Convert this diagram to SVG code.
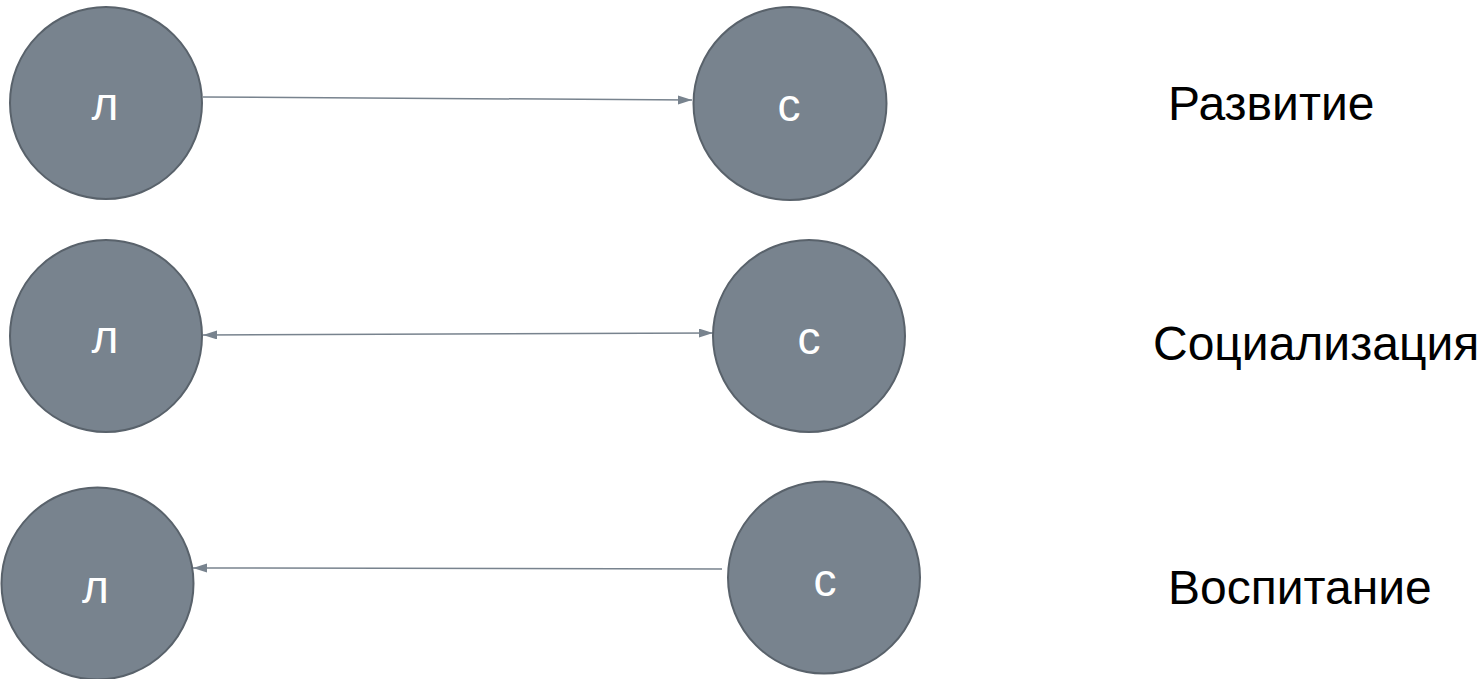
<svg xmlns="http://www.w3.org/2000/svg" width="1484" height="679" viewBox="0 0 1484 679">
<defs>
<style>
.node circle{fill:#78838e;stroke:#59626b;stroke-width:2}
.node text{fill:#ffffff;font-family:"Liberation Sans",Arial,sans-serif;font-size:46px;text-anchor:middle}
.label{fill:#000000;font-family:"Liberation Sans",Arial,sans-serif;font-size:48px}
.conn{stroke:#78838e;stroke-width:1.5;fill:none}
</style>
<marker id="ah" markerUnits="userSpaceOnUse" markerWidth="14" markerHeight="10" refX="14" refY="4.5" orient="auto-start-reverse">
<path d="M0,0 L14,4.5 L0,9 z" fill="#78838e"/>
</marker>
</defs>
<rect width="1484" height="679" fill="#ffffff"/>
<g id="connectors">
<line class="conn" x1="203" y1="97" x2="692" y2="100" marker-end="url(#ah)"/>
<line class="conn" x1="203" y1="335" x2="713" y2="333" marker-start="url(#ah)" marker-end="url(#ah)"/>
<line class="conn" x1="722" y1="569" x2="193" y2="568" marker-end="url(#ah)"/>
</g>
<g id="l1" class="node"><circle cx="106" cy="103" r="96"/><text x="105" y="120">л</text></g>
<g id="c1" class="node"><circle cx="790" cy="103.5" r="96.5"/><text x="789" y="121">с</text></g>
<g id="l2" class="node"><circle cx="106" cy="336" r="96"/><text x="105" y="353">л</text></g>
<g id="c2" class="node"><circle cx="809" cy="336" r="96"/><text x="809" y="354">с</text></g>
<g id="l3" class="node"><circle cx="97.5" cy="583.5" r="96"/><text x="95.5" y="603">л</text></g>
<g id="c3" class="node"><circle cx="824" cy="577.5" r="96"/><text x="825" y="596">с</text></g>
<g id="labels">
<text class="label" x="1168" y="120">Развитие</text>
<text class="label" x="1153" y="360">Социализация</text>
<text class="label" x="1168" y="604">Воспитание</text>
</g>
</svg>
